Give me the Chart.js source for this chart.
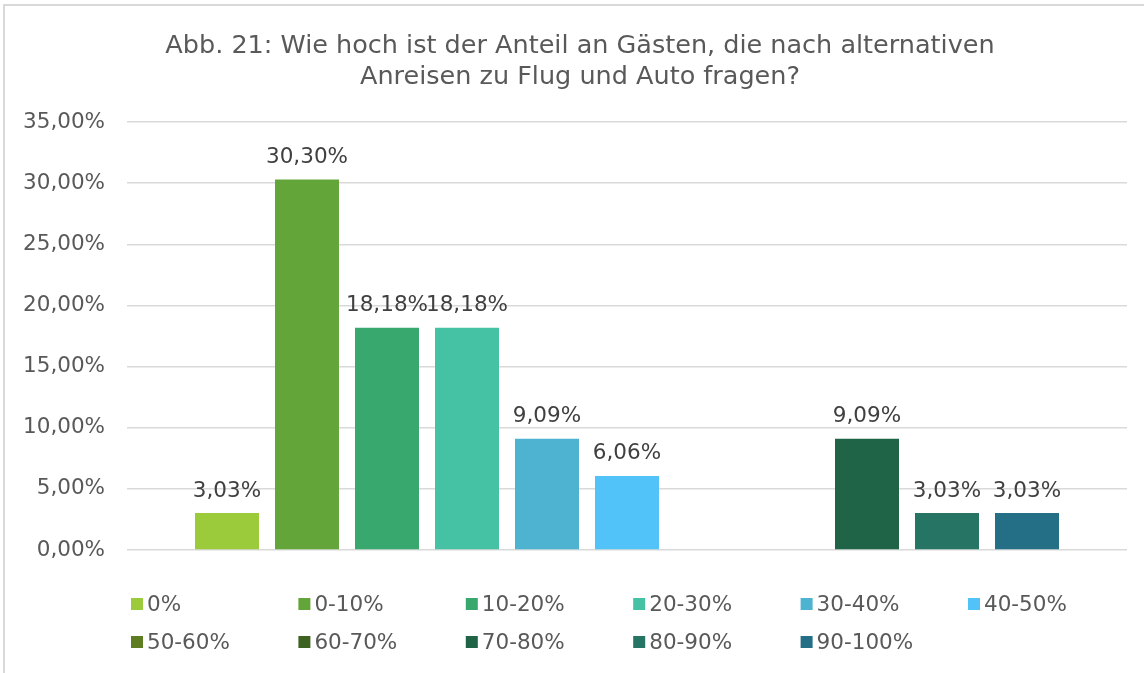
<!DOCTYPE html>
<html>
<head>
<meta charset="utf-8">
<script src="https://cdn.jsdelivr.net/npm/chart.js@4/dist/chart.umd.min.js"></script>
<style>
html,body{margin:0;padding:0;background:#fff;}
#wrap{width:1144px;height:673px;position:relative;}
</style>
</head>
<body>
<div id="wrap"><canvas id="c" width="1144" height="673"></canvas></div>
<script>
const titleLines = ["Abb. 21: Wie hoch ist der Anteil an Gästen, die nach alternativen", "Anreisen zu Flug und Auto fragen?"];
const seriesLabels = ["0%", "0-10%", "10-20%", "20-30%", "30-40%", "40-50%", "50-60%", "60-70%", "70-80%", "80-90%", "90-100%"];
const seriesValues = [3.03, 30.30, 18.18, 18.18, 9.09, 6.06, 0, 0, 9.09, 3.03, 3.03];
const seriesColors = ["#9BCB3B", "#64A539", "#38A86F", "#45C1A3", "#4EB2D1", "#51C3F8", "#5E7C22", "#3D6221", "#206448", "#267564", "#256F86"];
const yTicks = [0, 5, 10, 15, 20, 25, 30, 35];

const FONT = "'DejaVu Sans', Verdana, sans-serif";
const fmt = v => v.toFixed(2).replace('.', ',') + '%';

const datasets = seriesLabels.map((lab, i) => ({
  label: lab,
  data: [seriesValues[i]],
  backgroundColor: seriesColors[i],
  borderWidth: 0,
  categoryPercentage: 0.88,
  barPercentage: 0.8
}));

const decor = {
  id: 'decor',
  beforeDraw(chart) {
    const ctx = chart.ctx;
    ctx.save();
    ctx.strokeStyle = '#d9d9d9';
    ctx.lineWidth = 2;
    ctx.strokeRect(4, 5, 1200, 700);
    ctx.restore();
  },
  afterDraw(chart) {
    const ctx = chart.ctx;
    ctx.save();
    // title
    ctx.fillStyle = '#595959';
    ctx.font = '25.5px ' + FONT;
    ctx.textAlign = 'center';
    ctx.textBaseline = 'middle';
    titleLines.forEach((t, i) => ctx.fillText(t, 580, 46 + i * 31));
    // data labels
    ctx.fillStyle = '#404040';
    ctx.font = '21.5px ' + FONT;
    chart.data.datasets.forEach((ds, i) => {
      const meta = chart.getDatasetMeta(i);
      meta.data.forEach((bar, j) => {
        const v = ds.data[j];
        if (!v) return;
        ctx.fillText(fmt(v), bar.x, bar.y - 22);
      });
    });
    // legend
    ctx.textAlign = 'left';
    seriesLabels.forEach((lab, i) => {
      const col = i % 6, row = Math.floor(i / 6);
      const x = 131 + col * 167.4;
      const y = 604 + row * 38;
      ctx.fillStyle = seriesColors[i];
      ctx.fillRect(x, y - 6, 12, 12);
      ctx.fillStyle = '#595959';
      ctx.fillText(lab, x + 16, y + 1);
    });
    ctx.restore();
  }
};

new Chart(document.getElementById('c'), {
  type: 'bar',
  data: { labels: [''], datasets },
  options: {
    responsive: false,
    animation: false,
    layout: { padding: { top: 122, bottom: 123, right: 17, left: 0 } },
    plugins: { legend: { display: false }, title: { display: false }, tooltip: { enabled: false } },
    scales: {
      x: { display: false },
      y: {
        min: 0, max: 35,
        afterFit(s) { s.width = 127; },
        afterBuildTicks(s) { s.ticks = yTicks.map(v => ({ value: v })); },
        ticks: { color: '#595959', font: { family: FONT, size: 21.5 }, padding: 22, callback: v => fmt(v) },
        grid: { color: '#d9d9d9', lineWidth: 1.5, drawTicks: false },
        border: { display: false }
      }
    }
  },
  plugins: [decor]
});
</script>
</body>
</html>
